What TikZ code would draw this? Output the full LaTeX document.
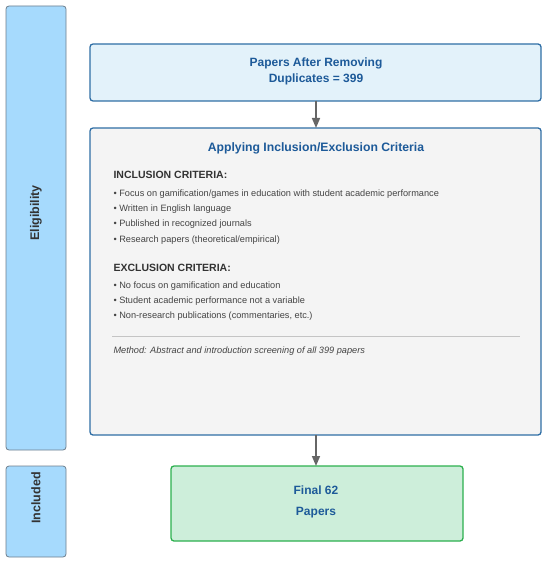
\documentclass[tikz,border=0pt]{standalone}
\usepackage{fontspec}
\setmainfont{Liberation Sans}
\usetikzlibrary{arrows.meta}
\definecolor{sidefill}{HTML}{A6DAFD}
\definecolor{sidedraw}{HTML}{6E7E8C}
\definecolor{bluedraw}{HTML}{2F6EA5}
\definecolor{bluetext}{HTML}{1D5A99}
\definecolor{topfill}{HTML}{E3F2FA}
\definecolor{midfill}{HTML}{F4F4F4}
\definecolor{finfill}{HTML}{CDEEDA}
\definecolor{findraw}{HTML}{2DB04F}
\definecolor{bodytext}{HTML}{444444}
\definecolor{headtext}{HTML}{333333}
\definecolor{arrowgray}{HTML}{666666}
\definecolor{rulegray}{HTML}{C4C4C4}
\tikzset{
  sidebox/.style={draw=sidedraw, fill=sidefill, line width=0.8pt, rounded corners=3pt},
  stagebox/.style={draw=bluedraw, line width=1.3pt, rounded corners=3pt},
  finbox/.style={draw=findraw, fill=finfill, line width=1.3pt, rounded corners=3pt},
  sidelabel/.style={rotate=90, font=\fontsize{12.5}{14}\selectfont\bfseries, text=headtext},
  boxtitle/.style={font=\fontsize{12}{16}\selectfont\bfseries, text=bluetext, align=center},
  crithead/.style={anchor=west, font=\fontsize{10.5}{12}\selectfont\bfseries, text=headtext},
  bullet/.style={anchor=west, font=\fontsize{9.2}{11}\selectfont, text=bodytext},
  flow/.style={draw=arrowgray, line width=1.6pt, -{Triangle[length=10pt,width=8pt]}}
}
\begin{document}
\begin{tikzpicture}[x=1pt,y=-1pt]
\useasboundingbox (0,0) rectangle (550,564);
% side boxes
\draw[sidebox] (6,6) rectangle (66,450);
\node[sidelabel] (elig) at (36,213) {Eligibility};
\draw[sidebox] (6,466) rectangle (66,557);
\node[sidelabel] (incl) at (36,498) {Included};
% top box
\draw[stagebox, fill=topfill] (90,44) rectangle (541,101);
\coordinate (topS) at (316,101);
\node[boxtitle] (toptext) at (316,71) {Papers After Removing\\Duplicates = 399};
% middle box
\draw[stagebox, fill=midfill] (90,128) rectangle (541,435);
\coordinate (midN) at (316,128);
\coordinate (midS) at (316,435);
\node[boxtitle, font=\fontsize{12.2}{15}\selectfont\bfseries] (midtitle) at (316,148) {Applying Inclusion/Exclusion Criteria};
\node[crithead] (inhead) at (110,175) {INCLUSION CRITERIA:};
\node[bullet] (i1) at (110,194) {• Focus on gamification/games in education with student academic performance};
\node[bullet] (i2) at (110,209) {• Written in English language};
\node[bullet] (i3) at (110,224.5) {• Published in recognized journals};
\node[bullet] (i4) at (110,240) {• Research papers (theoretical/empirical)};
\node[crithead] (exhead) at (110,267.5) {EXCLUSION CRITERIA:};
\node[bullet] (e1) at (110,286) {• No focus on gamification and education};
\node[bullet] (e2) at (110,301.5) {• Student academic performance not a variable};
\node[bullet] (e3) at (110,316.5) {• Non-research publications (commentaries, etc.)};
\draw[draw=rulegray, line width=1pt] (112,336) -- (520,336);
\node[bullet, font=\fontsize{9.2}{11}\selectfont\itshape] (method) at (110,351) {Method: Abstract and introduction screening of all 399 papers};
% final box
\draw[finbox] (171,466) rectangle (463,541);
\coordinate (finN) at (316,466);
\node[boxtitle, font=\fontsize{12}{21}\selectfont\bfseries] (fintext) at (316,502) {Final 62\\Papers};
% arrows
\draw[flow] (topS) -- (midN);
\draw[flow] (midS) -- (finN);
\end{tikzpicture}
\end{document}
